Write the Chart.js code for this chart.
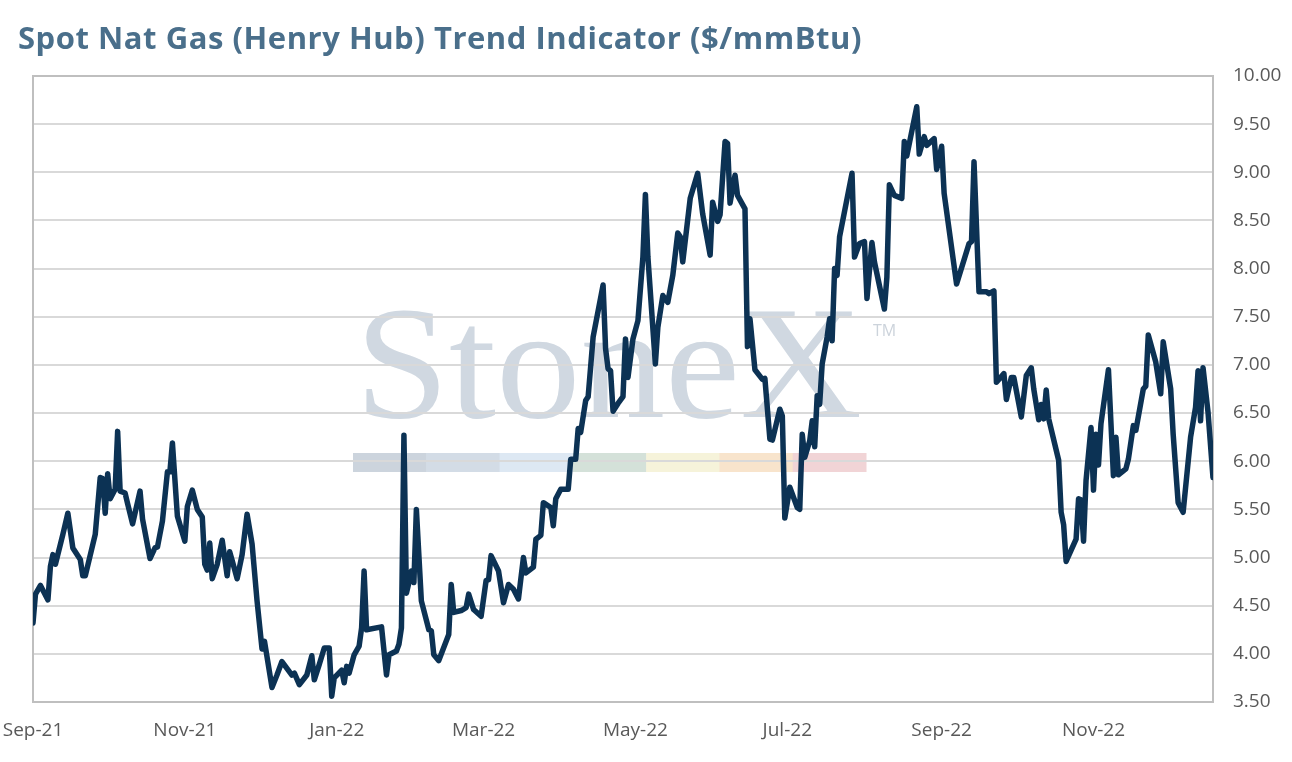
<!DOCTYPE html>
<html>
<head>
<meta charset="utf-8">
<script src="https://cdn.jsdelivr.net/npm/chart.js@4.4.1/dist/chart.umd.min.js"></script>
<style>
  html, body { margin: 0; padding: 0; background: #ffffff; }
  #wrap { position: relative; width: 1292px; height: 762px; overflow: hidden; }
  #title { position: absolute; left: 18px; top: 22px; font: bold 31px "Open Sans", Lato, sans-serif; line-height: 31px; color: #4a6f8b; white-space: nowrap; }
  canvas { position: absolute; left: 0; top: 0; }
</style>
</head>
<body>
<div id="wrap">
  <canvas id="c" width="1292" height="762"></canvas>
  <div id="title"><span id="titleText">Spot Nat Gas (Henry Hub) Trend Indicator ($/mmBtu)</span></div>
</div>
<script>
// ---- DATA ----
// Days since 1 Sep 2021 for each observation
const dayOffsets = [
  0,1,3,6,7,8,9,12,14,16,
  19,20,21,25,27,28,29,30,31,33,
  34,35,37,38,40,43,44,47,49,50,
  52,54,55,56,58,61,62,64,66,68,
  69,70,71,72,74,76,78,79,80,82,
  84,86,88,90,92,93,96,98,100,104,
  105,107,110,112,113,115,117,119,120,121,
  124,125,126,127,129,131,132,133,134,140,
  142,143,146,147,148,149,150,151,152,153,
  154,156,159,160,161,163,167,168,169,172,
  174,175,177,180,182,183,184,187,189,191,
  193,195,197,198,201,202,204,205,208,209,
  210,212,215,216,218,219,220,222,223,225,
  229,230,231,232,233,235,237,238,239,241,
  243,245,246,247,250,251,253,255,257,259,
  260,261,264,267,269,272,273,275,276,278,
  279,280,282,283,286,287,288,290,293,294,
  296,297,300,301,302,304,307,308,309,310,
  312,313,314,315,316,317,319,320,321,322,
  323,324,329,330,332,334,335,337,338,342,
  343,344,346,349,350,351,355,356,358,359,
  362,363,365,366,371,376,377,378,380,383,
  384,386,387,390,391,393,394,397,399,
  401,402,404,405,406,407,408,412,413,414,
  415,419,420,421,422,423,425,426,427,428,
  429,432,434,435,436,439,440,442,443,446,
  447,448,451,453,454,457,458,460,462,465,
  467,468,469,470,472,474
];
// Spot Henry Hub trend indicator, $/mmBtu
const spotPrice = [
  4.32,4.62,4.71,4.56,4.91,5.03,4.93,5.24,5.46,5.10,
  4.98,4.81,4.81,5.24,5.83,5.82,5.46,5.87,5.61,5.71,
  6.31,5.69,5.67,5.56,5.35,5.69,5.40,4.99,5.10,5.11,
  5.38,5.89,5.89,6.19,5.43,5.17,5.53,5.70,5.50,5.42,
  4.93,4.87,5.15,4.78,4.93,5.18,4.81,5.06,4.97,4.78,
  5.03,5.45,5.14,4.55,4.05,4.13,3.65,3.78,3.92,3.78,
  3.80,3.68,3.78,3.98,3.73,3.89,4.06,4.06,3.56,3.75,
  3.83,3.70,3.87,3.80,3.99,4.08,4.27,4.86,4.25,4.28,
  3.78,3.99,4.03,4.10,4.27,6.27,4.63,4.74,4.86,4.74,
  5.50,4.55,4.25,4.24,3.99,3.93,4.20,4.72,4.43,4.45,
  4.48,4.62,4.46,4.39,4.76,4.77,5.02,4.86,4.53,4.72,
  4.67,4.57,5.00,4.84,4.90,5.19,5.23,5.57,5.52,5.33,
  5.61,5.71,5.71,6.02,6.02,6.34,6.30,6.63,6.67,7.29,
  7.83,7.17,6.96,6.94,6.52,6.60,6.67,7.27,6.87,7.27,
  7.46,8.12,8.77,8.12,7.01,7.39,7.72,7.65,7.93,8.37,
  8.33,8.07,8.73,8.99,8.57,8.14,8.69,8.49,8.56,9.32,
  9.30,8.68,8.97,8.76,8.62,7.19,7.48,6.95,6.85,6.86,
  6.23,6.22,6.54,6.47,5.41,5.73,5.52,5.50,6.28,6.04,
  6.21,6.42,6.15,6.68,6.59,7.01,7.29,7.48,7.25,8.00,
  7.93,8.33,8.99,8.12,8.26,8.28,7.69,8.27,8.07,7.58,
  7.91,8.87,8.76,8.73,9.32,9.17,9.68,9.19,9.37,9.28,
  9.35,9.03,9.27,8.78,7.84,8.26,8.28,9.11,7.76,7.76,
  7.74,7.77,6.82,6.91,6.64,6.87,6.87,6.46,6.89,
  6.97,6.75,6.43,6.59,6.44,6.74,6.44,6.01,5.47,5.34,
  4.96,5.19,5.61,5.60,5.17,5.80,6.35,5.70,6.28,5.96,
  6.39,6.95,5.85,6.25,5.86,5.92,6.02,6.37,6.32,6.75,
  6.78,7.31,7.03,6.70,7.24,6.75,6.28,5.57,5.47,6.25,
  6.56,6.94,6.42,6.97,6.51,5.83
];
// X-axis ticks (days since 1 Sep 2021) and their labels
const tickDays = [0, 61, 122, 181, 242, 303, 365, 426];
const tickLabels = ['Sep-21', 'Nov-21', 'Jan-22', 'Mar-22', 'May-22', 'Jul-22', 'Sep-22', 'Nov-22'];
const lastDay = 474;
// Y-axis range
const yMin = 3.5, yMax = 10, yStep = 0.5;

// ---- TITLE WIDTH FIT ----
(function () {
  const span = document.getElementById('titleText');
  const target = 844;
  const w = span.getBoundingClientRect().width;
  const chars = span.textContent.length;
  span.style.letterSpacing = ((target - w) / chars) + 'px';
})();

// ---- CHART ----
const n = Math.min(dayOffsets.length, spotPrice.length);
const points = [];
for (let i = 0; i < n; i++) points.push({ x: dayOffsets[i], y: spotPrice[i] });

const tickFont = { family: '"Open Sans"', size: 19 };

const watermark = {
  id: 'watermark',
  beforeDraw(chart) {
    const ctx = chart.ctx;
    ctx.save();
    const barColors = ['#ccd4dd', '#d3dce6', '#dde8f3', '#d4e1d9', '#f6f3da', '#f8e4cc', '#f1d4d6'];
    const bx = 353, bw = 513 / barColors.length;
    barColors.forEach((c, i) => { ctx.fillStyle = c; ctx.fillRect(bx + i * bw, 453, bw + 0.5, 19); });
    ctx.font = '160px "Liberation Serif", "DejaVu Serif", serif';
    ctx.textBaseline = 'alphabetic';
    ctx.textAlign = 'left';
    const w = ctx.measureText('StoneX').width;
    ctx.save();
    ctx.translate(355, 417);
    ctx.scale(507 / w, 1);
    ctx.fillStyle = '#d0d8e1';
    ctx.fillText('StoneX', 0, 0);
    ctx.restore();
    ctx.font = '16px "Open Sans", sans-serif';
    ctx.fillStyle = '#ccd3db';
    ctx.fillText('TM', 873, 336);
    ctx.restore();
  }
};

const frame = {
  id: 'frame',
  beforeDatasetsDraw(chart) {
    const { ctx, chartArea: a } = chart;
    ctx.save();
    ctx.strokeStyle = '#bfbfbf';
    ctx.lineWidth = 2;
    ctx.strokeRect(a.left, a.top, a.right - a.left, a.bottom - a.top);
    ctx.restore();
  }
};

new Chart(document.getElementById('c'), {
  type: 'line',
  data: {
    datasets: [{
      data: points,
      borderColor: '#0c3254',
      borderWidth: 5.5,
      pointRadius: 0,
      tension: 0,
      fill: false,
      borderJoinStyle: 'round',
      borderCapStyle: 'round'
    }]
  },
  options: {
    responsive: false,
    animation: false,
    devicePixelRatio: 1,
    layout: { padding: { left: 33, top: 76, right: 0, bottom: 0 } },
    plugins: { legend: { display: false }, tooltip: { enabled: false }, title: { display: false } },
    scales: {
      x: {
        type: 'linear',
        min: 0,
        max: lastDay,
        afterBuildTicks(s) { s.ticks = tickDays.map(v => ({ value: v })); },
        afterFit(s) { s.height = 60; s.paddingLeft = 0; s.paddingRight = 0; },
        ticks: {
          autoSkip: false, maxRotation: 0, minRotation: 0,
          callback: (v, i) => tickLabels[i],
          color: '#595959',
          font: tickFont,
          padding: 17
        },
        grid: { display: false, drawTicks: false },
        border: { display: true, color: '#bfbfbf', width: 2 }
      },
      y: {
        position: 'right',
        min: yMin,
        max: yMax,
        afterFit(s) { s.width = 79; s.paddingTop = 0; s.paddingBottom = 0; },
        ticks: {
          stepSize: yStep,
          callback: v => Number(v).toFixed(2),
          color: '#595959',
          font: tickFont,
          padding: 20
        },
        grid: { color: '#d9d9d9', lineWidth: 2, drawTicks: false },
        border: { display: true, color: '#bfbfbf', width: 2 }
      }
    }
  },
  plugins: [watermark, frame]
});
</script>
</body>
</html>
